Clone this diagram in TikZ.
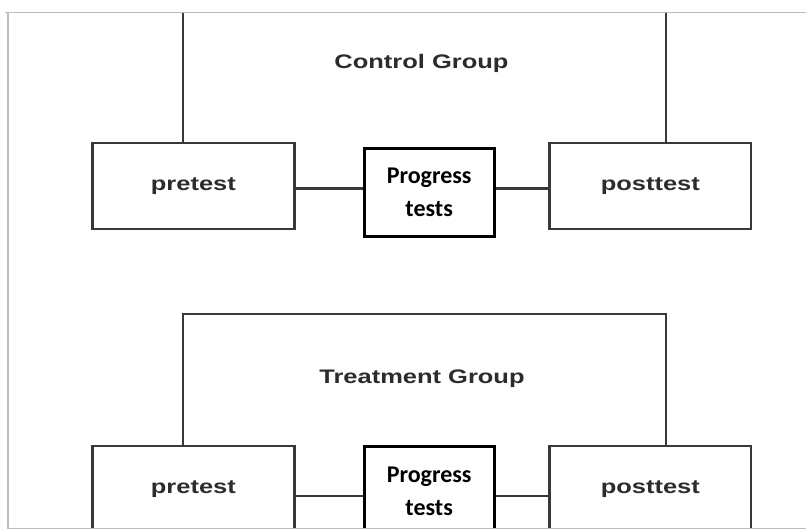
\documentclass[tikz,border=0pt]{standalone}
\usepackage{fontspec}
\newfontfamily\labelfont[FakeStretch=1.3]{Liberation Sans}
\newfontfamily\boxfont{Carlito}
\definecolor{framegray}{HTML}{BDBDBD}
\definecolor{linegray}{HTML}{383838}
\definecolor{textgray}{HTML}{2C2C2C}
\begin{document}
\begin{tikzpicture}[x=1pt,y=-1pt,
  testbox/.style={draw=linegray,line width=2.4pt,rectangle,inner sep=0pt,
    minimum width=201.8pt,minimum height=86.3pt,
    font=\labelfont\bfseries\fontsize{19.6}{23}\selectfont,text=textgray},
  progbox/.style={draw=black,line width=3pt,rectangle,inner sep=0pt,
    minimum width=129.7pt,minimum height=88.4pt,align=center,
    font=\boxfont\bfseries\fontsize{24}{33}\selectfont,text=black},
  grouplabel/.style={anchor=base,inner sep=0pt,
    font=\labelfont\bfseries\fontsize{19.6}{23}\selectfont,text=textgray},
  link/.style={draw=linegray,line width=2.4pt}]
\useasboundingbox (0,0) rectangle (806,530);
\fill[white] (0,0) rectangle (806,530);

\begin{scope}
\clip (8,12.5) rectangle (806,528.5);

% control group
\node[testbox] (pre1) at (193.4,185.85) {pretest};
\node[testbox] (post1) at (650.35,185.85) {posttest};
\node[progbox] (prog1) at (429.15,192.5) {Progress\\tests};
\node[grouplabel] (ctl) at (421.5,68.6) {Control Group};
\coordinate (top1l) at (183,12.5);
\coordinate (top1r) at (666,12.5);
\coordinate (cy1) at (0,188.3);
\draw[link] (top1l) -- (pre1.north -| top1l);
\draw[link] (top1r) -- (post1.north -| top1r);
\draw[link] (pre1.east |- cy1) -- (prog1.west |- cy1);
\draw[link] (prog1.east |- cy1) -- (post1.west |- cy1);

% treatment group
\node[testbox] (pre2) at (193.4,488.85) {\raisebox{2.8pt}{pretest}};
\node[testbox] (post2) at (650.35,488.85) {\raisebox{2.8pt}{posttest}};
\node[progbox] (prog2) at (429.15,490.9) {Progress\\tests};
\node[grouplabel] (trt) at (422,383.2) {Treatment Group};
\coordinate (top2l) at (183,314);
\coordinate (top2r) at (666,314);
\coordinate (cy2) at (0,496);
\draw[link,line join=miter] (pre2.north -| top2l) -- (top2l) -- (top2r) -- (post2.north -| top2r);
\draw[link] (pre2.east |- cy2) -- (prog2.west |- cy2);
\draw[link] (prog2.east |- cy2) -- (post2.west |- cy2);
\end{scope}

% frame
\coordinate (fa) at (806,12.5);
\coordinate (fb) at (8,12.5);
\coordinate (fc) at (8,528.5);
\coordinate (fd) at (806,528.5);
\draw[framegray,line width=1.2pt] (fa) -- (5,12.5);
\draw[framegray,line width=1.2pt] (fb) -- (fc) -- (fd);
\end{tikzpicture}
\end{document}
